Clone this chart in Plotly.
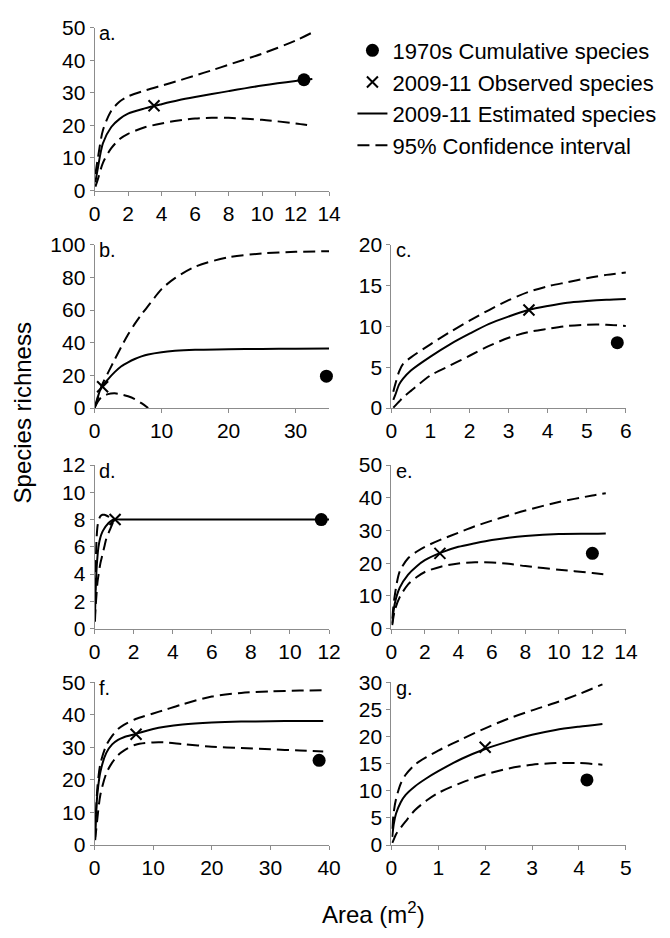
import plotly.graph_objects as go

# ---------------- data ----------------
# panel a
a_x   = [0.05, 0.2, 0.5, 1, 1.5, 2, 3, 4, 5, 6, 7, 8, 10, 12, 13]
a_est = [2.5, 7, 14.5, 19.5, 22.0, 23.6, 25.2, 26.5, 27.7, 28.7, 29.6, 30.5, 32.2, 33.6, 34.2]
a_hi  = [5, 10, 18.5, 24.5, 27.3, 28.9, 30.7, 32.2, 33.7, 35.3, 36.9, 38.6, 42, 46, 48.5]
a_lo  = [1.2, 3.5, 8.5, 13.0, 15.8, 17.4, 19.4, 20.6, 21.5, 22.1, 22.3, 22.3, 21.7, 20.6, 19.9]
a_obs = (3.55, 26)
a_old = (12.5, 34)

# panel b
b_x   = [0, 0.5, 1, 2, 3, 4, 5, 6, 7, 8, 10, 12, 15, 20, 25, 30, 35]
b_est = [0, 7, 12.5, 17.6, 22, 25.6, 28, 30, 31.6, 32.8, 34.2, 35, 35.6, 36, 36.2, 36.3, 36.4]
b_hi  = [0, 6, 13, 21.5, 29.6, 37.5, 45, 51.5, 57.3, 62.5, 72.8, 79.5, 86.5, 92.3, 94.6, 95.6, 96]
b_lo  = [0, 4, 6.5, 8.5, 9, 8.3, 7.2, 5.5, 3, 0, None, None, None, None, None, None, None]
b_obs = (1.2, 13)
b_old = (34.6, 19.5)

# panel c
c_x   = [0.05, 0.1, 0.2, 0.3, 0.5, 1, 1.5, 2, 2.5, 3, 3.5, 4, 4.5, 5, 5.5, 6]
c_est = [1.0, 1.6, 2.9, 3.6, 4.6, 6.3, 7.8, 9.1, 10.3, 11.2, 12.0, 12.5, 12.9, 13.1, 13.25, 13.35]
c_hi  = [2.0, 2.9, 4.5, 5.4, 6.2, 7.8, 9.3, 10.7, 12.0, 13.2, 14.2, 14.9, 15.4, 15.9, 16.3, 16.6]
c_lo  = [0.05, 0.3, 0.8, 1.3, 2.1, 4.0, 5.2, 6.4, 7.6, 8.6, 9.3, 9.7, 10.05, 10.2, 10.2, 10.05]
c_obs = (3.52, 12)
c_old = (5.78, 8)

# panel d
d_x   = [0.02, 0.05, 0.1, 0.15, 0.2, 0.3, 0.4, 0.5, 0.6, 0.8, 1.0, 1.5, 3, 12]
d_est = [0.8, 2.5, 4.3, 5.3, 6.0, 6.7, 7.1, 7.35, 7.55, 7.85, 8.0, 8.0, 8.0, 8.0]
d_hi  = [1.5, 4, 6.5, 7.5, 7.9, 8.25, 8.35, 8.35, 8.3, 8.15, 8.0, None, None, None]
d_lo  = [0.5, 1.5, 2.5, 3.4, 3.9, 4.8, 5.4, 6.0, 6.6, 7.3, 8.0, None, None, None]
d_obs = (1.05, 8)
d_old = (11.6, 8)

# panel e
e_x   = [0.05, 0.2, 0.5, 1, 1.5, 2, 3, 4, 5, 6, 7, 8, 10, 12, 12.8]
e_est = [1.5, 7.5, 12.5, 16.5, 19, 20.9, 23.3, 25, 26.1, 27.1, 27.8, 28.3, 28.9, 29.0, 29.1]
e_hi  = [3, 10, 17.5, 21.5, 23.5, 25, 27.3, 29.3, 31.3, 33, 34.6, 36.1, 38.7, 40.7, 41.4]
e_lo  = [1, 5.5, 9.6, 13.5, 15.7, 17.3, 19.0, 19.9, 20.3, 20.2, 19.8, 19.1, 18.0, 17.0, 16.5]
e_obs = (2.9, 23)
e_old = (12, 23)

# panel f
f_x   = [0.1, 0.3, 0.5, 1, 2, 3, 4, 5, 7, 10, 12, 15, 20, 25, 30, 35, 39]
f_est = [2.5, 11, 16, 22.5, 28.3, 30.9, 32.3, 33.1, 34.1, 35.6, 36.3, 37, 37.6, 37.9, 38.0, 38.1, 38.1]
f_hi  = [4, 12, 18, 25, 30.6, 33.5, 35.6, 36.9, 38.7, 40.4, 41.5, 43.2, 45.6, 46.7, 47.2, 47.4, 47.5]
f_lo  = [1.5, 5, 8.5, 15.5, 22, 25.3, 27.6, 29, 30.8, 31.5, 31.5, 31, 30.2, 29.8, 29.4, 29, 28.7]
f_obs = (7.08, 34)
f_old = (38.3, 26)

# panel g
g_x   = [0.02, 0.05, 0.1, 0.2, 0.3, 0.5, 0.75, 1, 1.5, 2, 2.5, 3, 3.5, 4, 4.5]
g_est = [1.5, 3.8, 5.8, 7.9, 9.2, 10.8, 12.3, 13.6, 15.9, 17.7, 19.1, 20.3, 21.2, 21.8, 22.3]
g_hi  = [3, 6, 8.5, 11.3, 12.9, 14.8, 16.2, 17.4, 19.5, 21.5, 23.3, 24.8, 26.2, 27.8, 29.6]
g_lo  = [0.4, 1, 2, 3.2, 4.3, 6.4, 8.2, 9.6, 11.5, 13.0, 14.1, 14.8, 15.1, 15.1, 14.8]
g_obs = (2.0, 18)
g_old = (4.17, 12)

panels = [
    # label, x, est, hi, lo, obs, old, xmax, xdtick, ymax, ydtick, col, row
    ("a.", a_x, a_est, a_hi, a_lo, a_obs, a_old, 14, 2, 50, 10, 0, 0),
    ("b.", b_x, b_est, b_hi, b_lo, b_obs, b_old, 35, 10, 100, 20, 0, 1),
    ("c.", c_x, c_est, c_hi, c_lo, c_obs, c_old, 6, 1, 20, 5, 1, 1),
    ("d.", d_x, d_est, d_hi, d_lo, d_obs, d_old, 12, 2, 12, 2, 0, 2),
    ("e.", e_x, e_est, e_hi, e_lo, e_obs, e_old, 14, 2, 50, 10, 1, 2),
    ("f.", f_x, f_est, f_hi, f_lo, f_obs, f_old, 40, 10, 50, 10, 0, 3),
    ("g.", g_x, g_est, g_hi, g_lo, g_obs, g_old, 5, 1, 30, 5, 1, 3),
]

legend_names = ["1970s Cumulative species", "2009-11 Observed species",
                "2009-11 Estimated species", "95% Confidence interval"]

# ---------------- layout geometry ----------------
W, H = 670, 938
col_px = [(91, 332), (396, 637)]
row_px = [(16, 183), (238.5, 406), (464.5, 632), (687, 854)]

FONT = "Liberation Sans, Arial, sans-serif"
AXCOL = "#8c8c8c"
DASH = "12px,6px"
SMOOTH = 0.8

fig = go.Figure()
layout_axes = {}
annotations = []

for i, (lab, x, est, hi, lo, obs, old, xmax, xdt, ymax, ydt, c, r) in enumerate(panels):
    n = i + 1
    xa = "x" if n == 1 else f"x{n}"
    ya = "y" if n == 1 else f"y{n}"
    first = (i == 0)
    fig.add_trace(go.Scatter(x=x, y=hi, mode="lines", xaxis=xa, yaxis=ya,
                             line=dict(color="black", width=2, dash=DASH, shape="spline", smoothing=SMOOTH),
                             name=legend_names[3], showlegend=first, legendrank=4))
    fig.add_trace(go.Scatter(x=x, y=lo, mode="lines", xaxis=xa, yaxis=ya,
                             line=dict(color="black", width=2, dash=DASH, shape="spline", smoothing=SMOOTH),
                             name=legend_names[3], showlegend=False))
    fig.add_trace(go.Scatter(x=x, y=est, mode="lines", xaxis=xa, yaxis=ya,
                             line=dict(color="black", width=2, shape="spline", smoothing=SMOOTH),
                             name=legend_names[2], showlegend=first, legendrank=3))
    fig.add_trace(go.Scatter(x=[obs[0]], y=[obs[1]], mode="markers", xaxis=xa, yaxis=ya,
                             marker=dict(symbol="x-thin", size=11, color="black",
                                         line=dict(width=2, color="black")),
                             cliponaxis=False,
                             name=legend_names[1], showlegend=first, legendrank=2))
    fig.add_trace(go.Scatter(x=[old[0]], y=[old[1]], mode="markers", xaxis=xa, yaxis=ya,
                             marker=dict(symbol="circle", size=13, color="black"),
                             cliponaxis=False,
                             name=legend_names[0], showlegend=first, legendrank=1))

    x0, x1 = col_px[c]
    y0, y1 = row_px[r]
    axstyle = dict(showgrid=False, zeroline=False, showline=True, linecolor=AXCOL, linewidth=1,
                   ticks="outside", ticklen=4, tickcolor=AXCOL, tickwidth=1,
                   tickfont=dict(size=21, color="black", family=FONT))
    layout_axes["xaxis" if n == 1 else f"xaxis{n}"] = dict(
        domain=[x0 / W, x1 / W], range=[0, xmax], dtick=xdt, tick0=0,
        anchor=ya, **axstyle)
    layout_axes["yaxis" if n == 1 else f"yaxis{n}"] = dict(
        domain=[1 - y1 / H, 1 - y0 / H], range=[0, ymax], dtick=ydt, tick0=0,
        anchor=xa, **axstyle)
    annotations.append(dict(text=lab, xref=f"{xa} domain", yref=f"{ya} domain",
                            x=0.012, y=1.045, xanchor="left", yanchor="top", showarrow=False,
                            font=dict(size=20, color="black", family=FONT)))

annotations.append(dict(text="Species richness", xref="paper", yref="paper",
                        x=17 / W, y=1 - 411 / H, textangle=-90, showarrow=False,
                        xanchor="center", yanchor="middle",
                        font=dict(size=24, color="black", family=FONT)))
annotations.append(dict(text="Area (m<sup>2</sup>)", xref="paper", yref="paper",
                        x=378 / W, y=1 - 924 / H, showarrow=False,
                        xanchor="center", yanchor="middle",
                        font=dict(size=24, color="black", family=FONT)))

fig.update_layout(
    width=W, height=H, margin=dict(l=0, r=0, t=0, b=0),
    paper_bgcolor="white", plot_bgcolor="white",
    font=dict(family=FONT, color="black"),
    showlegend=True,
    legend=dict(x=356 / W, y=1 - 18 / H, xanchor="left", yanchor="top",
                font=dict(size=22, color="black", family=FONT),
                bgcolor="rgba(0,0,0,0)", traceorder="normal"),
    annotations=annotations,
    **layout_axes,
)

fig.write_html("out.html")
